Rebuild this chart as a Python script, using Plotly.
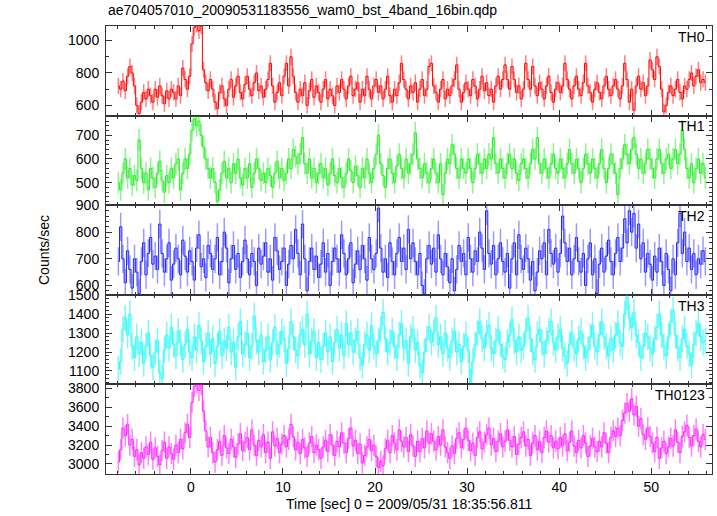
import numpy as np
import plotly.graph_objects as go
from plotly.subplots import make_subplots

title_text = "ae704057010_20090531183556_wam0_bst_4band_16bin.qdp"
xlabel = "Time [sec] 0 = 2009/05/31 18:35:56.811"
ylabel = "Counts/sec"
panel_names = ["TH0", "TH1", "TH2", "TH3", "TH0123"]

t_start = -8.0
bin_width = 0.25

th0 = [
    720, 700, 750, 690, 780, 840, 800, 720,
    600, 550, 620, 680, 640, 700, 660, 620,
    700, 650, 720, 660, 610, 690, 640, 700,
    680, 640, 720, 660, 830, 760, 700, 780,
    980, 1080, 1100, 1060, 1090, 820, 740, 690,
    760, 700, 620, 580, 680, 720, 640, 600,
    700, 760, 650, 720, 780, 680, 640, 730,
    780, 700, 660, 740, 800, 690, 720, 650,
    700, 760, 860, 720, 620, 680, 740, 660,
    780, 860, 720, 900, 780, 680, 620, 700,
    660, 740, 600, 690, 760, 650, 720, 680,
    620, 700, 760, 640, 700, 660, 600, 720,
    680, 760, 700, 640, 720, 780, 660, 700,
    740, 620, 700, 660, 780, 700, 640, 720,
    760, 680, 720, 640, 700, 780, 660, 620,
    700, 660, 740, 860, 760, 700, 640, 720,
    680, 740, 620, 700, 760, 660, 700, 840,
    860, 720, 680, 620, 700, 760, 640, 700,
    660, 720, 760, 850, 700, 620, 680, 740,
    700, 660, 760, 720, 640, 700, 780, 690,
    740, 660, 700, 620, 720, 780, 700, 760,
    850, 760, 700, 840, 760, 680, 720, 640,
    700, 860, 760, 700, 840, 720, 660, 740,
    700, 640, 720, 780, 680, 620, 700, 740,
    680, 720, 860, 760, 700, 640, 720, 780,
    700, 660, 740, 860, 720, 680, 620, 700,
    740, 680, 640, 720, 780, 700, 660, 720,
    760, 700, 640, 720, 860, 760, 620, 700,
    570, 720, 780, 700, 740, 660, 720, 880,
    820, 760, 900, 840, 700, 560, 600, 680,
    720, 660, 700, 760, 680, 640, 720, 700,
    760, 800, 720, 780, 820, 740, 760, 740,
]

th1 = [
    500, 470, 540, 600, 520, 560, 490, 530,
    510, 680, 560, 500, 540, 470, 560, 520,
    480, 540, 590, 510, 460, 530, 500, 560,
    520, 580, 600, 470, 540, 600, 560, 620,
    720, 770, 740, 760, 700, 650, 600, 560,
    520, 560, 500, 420, 470, 540, 590, 520,
    560, 500, 580, 540, 600, 520, 490, 560,
    520, 580, 480, 540, 600, 560, 510, 540,
    500, 560, 530, 480, 540, 590, 520, 560,
    510, 540, 600, 560, 640, 610, 580, 620,
    690, 580, 540, 600, 520, 560, 500, 540,
    580, 520, 560, 490, 540, 600, 530, 500,
    560, 520, 480, 540, 600, 550, 500, 570,
    530, 480, 560, 520, 600, 540, 500, 560,
    620, 700, 580, 530, 480, 560, 600, 540,
    500, 570, 620, 560, 520, 600, 540, 580,
    620, 710, 600, 560, 520, 580, 540, 500,
    560, 600, 540, 500, 580, 450, 540, 600,
    580, 660, 620, 560, 520, 600, 560, 540,
    600, 560, 500, 560, 620, 580, 540, 600,
    560, 620, 600, 690, 580, 540, 600, 560,
    520, 580, 620, 560, 600, 540, 510, 580,
    600, 560, 520, 580, 640, 600, 690, 580,
    540, 600, 560, 520, 580, 620, 560, 540,
    600, 560, 520, 580, 640, 580, 540, 600,
    560, 500, 560, 620, 580, 540, 600, 560,
    520, 580, 640, 560, 500, 560, 620, 580,
    540, 450, 560, 600, 660, 620, 580, 640,
    690, 620, 560, 600, 540, 580, 640, 600,
    560, 520, 600, 640, 580, 540, 600, 620,
    560, 600, 640, 580, 620, 720, 640, 560,
    520, 580, 500, 560, 600, 540, 580, 520,
]

th2 = [
    690, 820, 700, 610, 730, 660, 590, 700,
    650, 570, 690, 760, 640, 720, 780, 680,
    710, 660, 830, 720, 650, 700, 760, 620,
    680, 740, 700, 640, 770, 710, 650, 730,
    690, 620, 740, 790, 670, 700, 630, 750,
    720, 660, 700, 780, 640, 690, 800, 740,
    610, 700, 750, 660, 720, 630, 690, 770,
    700, 640, 720, 690, 600, 740, 680, 710,
    760, 650, 700, 620, 780, 730, 660, 690,
    740, 600, 680, 750, 700, 810, 720, 640,
    830, 700, 580, 690, 740, 660, 710, 630,
    680, 760, 650, 720, 600, 690, 740, 700,
    650, 790, 720, 640, 700, 760, 610, 680,
    730, 660, 750, 700, 620, 780, 700, 660,
    720, 890, 740, 650, 700, 630, 760, 690,
    640, 720, 780, 690, 740, 660, 810, 700,
    760, 690, 640, 720, 600, 570, 700, 750,
    680, 740, 650, 790, 700, 640, 720, 670,
    610, 700, 580, 660, 750, 690, 720, 640,
    780, 700, 650, 730, 690, 800, 740, 660,
    880, 720, 680, 750, 640, 700, 760, 690,
    650, 720, 590, 700, 760, 640, 790, 700,
    660, 740, 700, 620, 690, 580, 650, 730,
    700, 760, 640, 810, 720, 680, 740, 650,
    720, 860, 760, 690, 740, 640, 700, 780,
    690, 650, 720, 600, 700, 760, 640, 700,
    570, 680, 740, 650, 710, 770, 690, 640,
    720, 780, 690, 740, 850, 760, 880, 800,
    870, 740, 830, 700, 760, 650, 720, 680,
    620, 710, 650, 740, 690, 600, 720, 660,
    580, 700, 640, 760, 870, 720, 800, 690,
    740, 660, 720, 640, 700, 680, 730, 690,
]

th3 = [
    1110, 1150, 1320, 1380, 1290, 1400, 1230, 1170,
    1280, 1190, 1250, 1140, 1230, 1300, 1180, 1120,
    1200, 1260, 1090, 1060, 1210, 1290, 1220, 1330,
    1240, 1180, 1310, 1250, 1160, 1240, 1320, 1200,
    1170, 1280, 1210, 1340, 1260, 1150, 1230, 1300,
    1190, 1270, 1140, 1230, 1310, 1180, 1260, 1220,
    1330, 1200, 1250, 1120, 1280, 1360, 1190, 1240,
    1300, 1170, 1230, 1390, 1260, 1200, 1290, 1150,
    1210, 1280, 1160, 1250, 1330, 1190, 1240, 1310,
    1270, 1140, 1220, 1360, 1280, 1210, 1180, 1290,
    1320, 1240, 1400, 1190, 1260, 1310, 1170, 1250,
    1160, 1230, 1300, 1200, 1280, 1150, 1250, 1320,
    1220, 1290, 1180, 1350, 1240, 1300, 1200, 1260,
    1310, 1170, 1130, 1240, 1290, 1210, 1340, 1230,
    1190, 1260, 1320, 1410, 1270, 1200, 1250, 1310,
    1230, 1170, 1290, 1350, 1220, 1260, 1140, 1280,
    1320, 1210, 1250, 1130, 1090, 1200, 1270, 1330,
    1250, 1300, 1380, 1240, 1280, 1190, 1300, 1220,
    1170, 1260, 1310, 1200, 1240, 1150, 1230, 1290,
    1210, 1040, 1150, 1240, 1300, 1360, 1270, 1220,
    1300, 1340, 1220, 1190, 1260, 1320, 1240, 1180,
    1160, 1250, 1290, 1370, 1260, 1200, 1280, 1210,
    1230, 1310, 1380, 1270, 1200, 1160, 1290, 1320,
    1250, 1190, 1260, 1310, 1360, 1250, 1210, 1280,
    1320, 1220, 1180, 1140, 1240, 1300, 1220, 1190,
    1270, 1310, 1230, 1170, 1210, 1280, 1340, 1230,
    1200, 1290, 1360, 1280, 1230, 1180, 1270, 1210,
    1290, 1350, 1250, 1230, 1400, 1490, 1380, 1330,
    1410, 1290, 1250, 1170, 1230, 1300, 1280, 1220,
    1190, 1270, 1330, 1400, 1290, 1230, 1180, 1280,
    1360, 1420, 1290, 1220, 1170, 1270, 1320, 1230,
    1190, 1130, 1240, 1300, 1350, 1280, 1250, 1260,
]

th0123 = [
    3020, 3150, 3380, 3300, 3420, 3200, 3260, 3080,
    3150, 2990, 3120, 3060, 3180, 3100, 3230, 3050,
    3170, 3080, 2990, 3140, 3230, 3060, 3180, 3110,
    3050, 3200, 3120, 3260, 3160, 3330, 3420, 3280,
    3650, 3820, 3860, 3780, 3840, 3560, 3350, 3180,
    3280, 3120, 3020, 3150, 3240, 3090, 3300, 3170,
    3110, 3260, 3180, 3070, 3210, 3320, 3140, 3230,
    3280, 3150, 3360, 3200, 3090, 3250, 3180, 3310,
    3120, 3230, 3060, 3340, 3190, 3270, 3120, 3210,
    3300, 3180, 3260, 3420, 3290, 3150, 3230, 3110,
    3260, 3170, 3080, 3220, 3290, 3120, 3200, 3150,
    3060, 3180, 3250, 3130, 3310, 3200, 3090, 3240,
    3180, 3330, 3220, 3120, 3270, 3380, 3190, 3250,
    3110, 3210, 3010, 3090, 3180, 3260, 3140, 3200,
    3080, 2960, 3030, 2980, 3160, 3250, 3120, 3300,
    3220, 3150, 3360, 3240, 3180, 3280, 3130, 3310,
    3190, 3080, 3240, 3130, 3270, 3170, 3350, 3220,
    3320, 3240, 3150, 3290, 3200, 3360, 3180, 3120,
    3060, 3190, 3110, 3270, 3330, 3170, 3260, 3380,
    3250, 3140, 3220, 3090, 3280, 3340, 3160, 3230,
    3310, 3380, 3200, 3270, 3130, 3240, 3320, 3180,
    3240, 3360, 3250, 3180, 3290, 3100, 3210, 3280,
    3340, 3190, 3260, 3090, 3220, 3300, 3150, 3240,
    3120, 3280, 3350, 3230, 3300, 3170, 3240, 3160,
    3280, 3190, 3320, 3140, 3230, 3350, 3190, 3120,
    3250, 3170, 3300, 3220, 3080, 3190, 3270, 3180,
    3130, 3240, 3180, 3330, 3220, 3120, 3280, 3350,
    3290, 3380, 3300, 3460, 3540, 3640, 3560, 3690,
    3520, 3610, 3400, 3480, 3310, 3260, 3380, 3290,
    3220, 3130, 3280, 3060, 3170, 3240, 3110, 3180,
    3270, 3190, 3360, 3230, 3120, 3290, 3340, 3410,
    3280, 3190, 3300, 3370, 3240, 3180, 3310, 3260,
]

# typical 1-sigma error per bin
errors = [50, 46, 53, 70, 113]

series = [th0, th1, th2, th3, th0123]
colors = ["#ff0000", "#22ee22", "#2222ff", "#22ffff", "#ff22ff"]
err_colors = ["rgba(255,0,0,0.5)", "rgba(0,230,0,0.45)", "rgba(30,30,255,0.45)",
              "rgba(0,240,240,0.5)", "rgba(255,0,255,0.5)"]
y_ranges = [[537, 1090], [405, 783], [565, 901], [1029, 1502], [2893, 3843]]
y_dticks = [200, 100, 100, 100, 200]
y_minor = [100, 20, 20, 20, 100]

FONT = "Liberation Sans, Arial, Helvetica, sans-serif"
LINE_C = "#333"

fig = make_subplots(rows=5, cols=1, shared_xaxes=True, vertical_spacing=0)

for i, vals in enumerate(series):
    n = len(vals)
    t = t_start + bin_width * (np.arange(n) + 0.5)
    fig.add_trace(
        go.Scatter(
            x=t, y=vals, mode="lines",
            line=dict(color=colors[i], width=1, shape="hvh"),
            error_y=dict(type="constant", value=errors[i], width=0,
                         thickness=1.5, color=err_colors[i]),
            showlegend=False, hoverinfo="skip",
        ),
        row=i + 1, col=1,
    )
    fig.update_yaxes(
        range=y_ranges[i], dtick=y_dticks[i], tick0=0,
        ticks="inside", ticklen=6, tickwidth=1, tickcolor=LINE_C,
        minor=dict(dtick=y_minor[i], ticks="inside", ticklen=3, tickcolor=LINE_C, tickwidth=1),
        showline=True, linecolor=LINE_C, linewidth=1, mirror="allticks",
        showgrid=False, zeroline=False,
        tickfont=dict(family=FONT, size=14, color="#000"),
        ticklabelstandoff=3,
        row=i + 1, col=1,
    )
    fig.update_xaxes(
        range=[-9.22, 56.6], dtick=10, tick0=0,
        ticks="inside", ticklen=6, tickwidth=1, tickcolor=LINE_C,
        minor=dict(dtick=2, ticks="inside", ticklen=3, tickcolor=LINE_C, tickwidth=1),
        showline=True, linecolor=LINE_C, linewidth=1, mirror="allticks",
        showgrid=False, zeroline=False,
        showticklabels=(i == 4),
        tickfont=dict(family=FONT, size=14, color="#000"),
        row=i + 1, col=1,
    )
    fig.add_annotation(
        text=panel_names[i], xref="x domain" if i == 0 else f"x{i+1} domain",
        yref="y domain" if i == 0 else f"y{i+1} domain",
        x=1, xshift=-5, y=0.99, xanchor="right", yanchor="top", showarrow=False,
        font=dict(family=FONT, size=14, color="#000"),
    )

fig.add_annotation(text=title_text, xref="paper", yref="paper", x=0, y=1,
                   yshift=26, xanchor="left", yanchor="top", showarrow=False,
                   font=dict(family=FONT, size=14, color="#000"))
fig.add_annotation(text=ylabel, xref="paper", yref="paper", x=0, xshift=-62,
                   y=0.5, textangle=-90, xanchor="center", yanchor="middle",
                   showarrow=False, font=dict(family=FONT, size=14, color="#000"))
fig.add_annotation(text=xlabel, xref="paper", yref="paper", x=0.5, y=0,
                   yshift=-20, xanchor="center", yanchor="top", showarrow=False,
                   font=dict(family=FONT, size=14, color="#000"))

fig.update_layout(
    width=717, height=516,
    margin=dict(l=106, r=5, t=26, b=42),
    paper_bgcolor="white", plot_bgcolor="white",
    font=dict(family=FONT, size=14, color="#000"),
)

fig.write_html("out.html", config={"displayModeBar": False},
               post_script="document.body.style.margin='0';")
